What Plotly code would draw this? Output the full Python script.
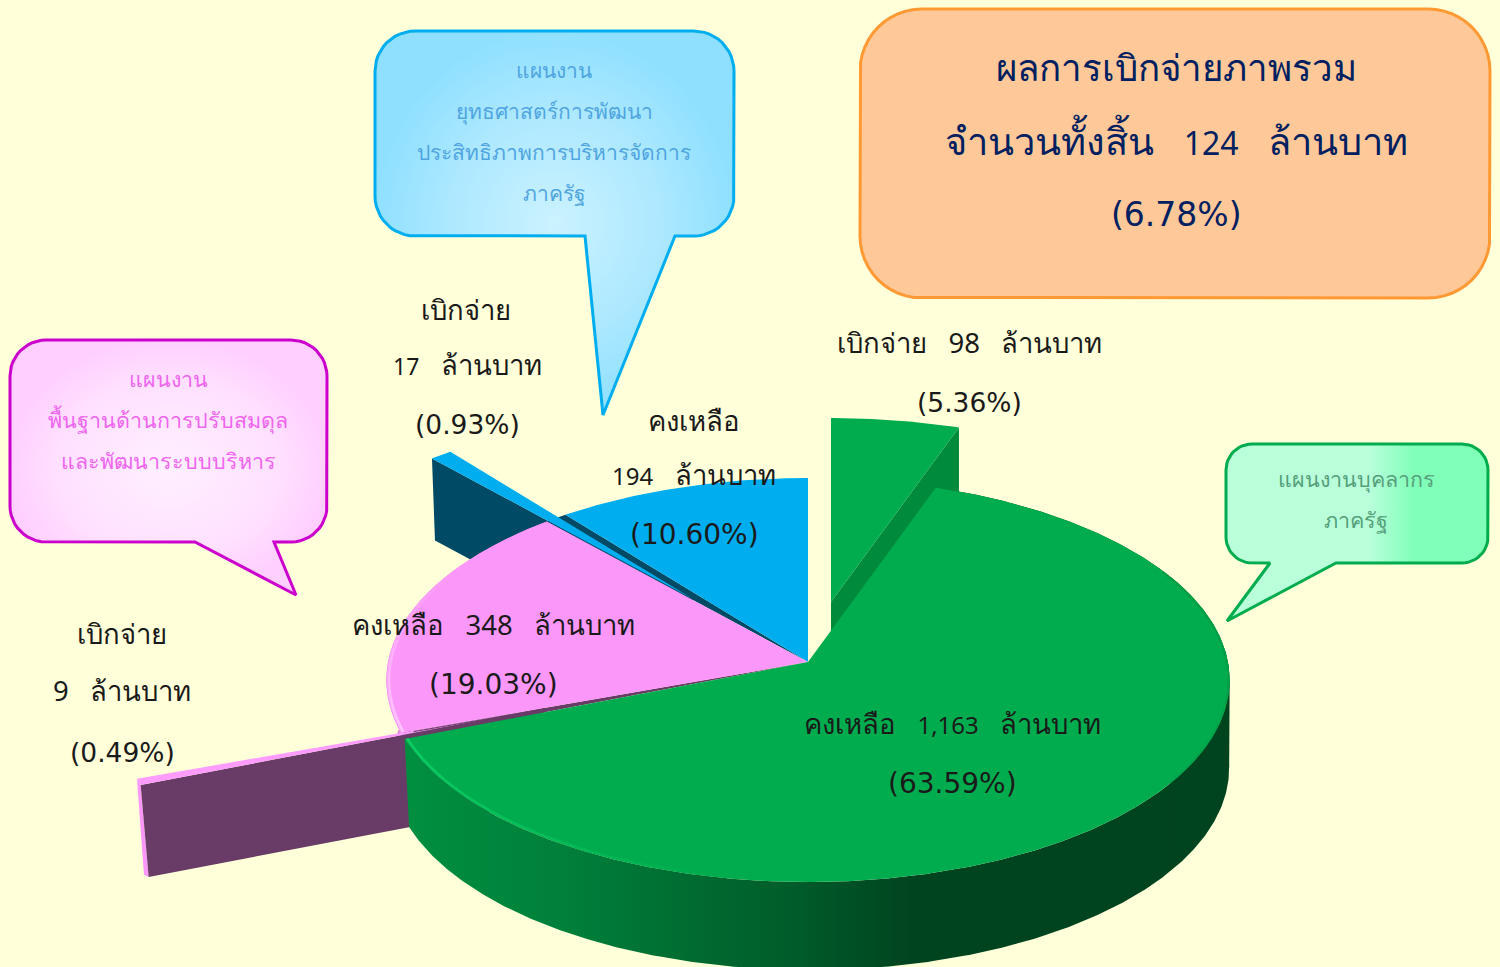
import math
import plotly.graph_objects as go

# ---------- data ----------
categories = ["เบิกจ่าย แผนงานบุคลากรภาครัฐ", "คงเหลือ แผนงานบุคลากรภาครัฐ",
              "เบิกจ่าย แผนงานพื้นฐาน", "คงเหลือ แผนงานพื้นฐาน",
              "เบิกจ่าย แผนงานยุทธศาสตร์", "คงเหลือ แผนงานยุทธศาสตร์"]
values = [98, 1163, 9, 348, 17, 194]
pull_x = [23, 0, -264, 0, -115, 0]
pull_y = [-60, 0, 46, 0, -63, 0]

# ---------- style / projection ----------
BG = "#FFFFD9"
GREEN, BLUE, PINK = "#00AC4E", "#00AEEF", "#FC97FA"
GREEN_CUT, BLUE_CUT, PINK_CUT = "#008A3C", "#004A66", "#683C66"
CX, CY, RX, RY, K, DEPTH = 808, 662, 420, 200.4, 0.0893, 88
FONT = "Noto Sans"
WIDE = "DejaVu Sans"

total = sum(values)
edges = [0.0]
for v in values:
    edges.append(edges[-1] + v / total * 360)


def pt(deg, r=1.0, dx=0.0, dy=0.0, low=False):
    u = r * math.sin(math.radians(deg))
    v = -r * math.cos(math.radians(deg))
    w = 1 - K * v
    sx = 0.994 if low else 1.0
    return (CX + dx + (2 if low else 0) + sx * RX * u / w,
            CY + dy + (DEPTH if low else 0) + RY * v / w)


def arc(a, b, **kw):
    n = max(2, int(abs(b - a) * 2))
    return [pt(a + (b - a) * i / n, **kw) for i in range(n + 1)]


def poly(points, color=None, gradient=None):
    xs = [p[0] for p in points] + [points[0][0]]
    ys = [p[1] for p in points] + [points[0][1]]
    kw = dict(fillgradient=gradient) if gradient else dict(fillcolor=color)
    fig.add_trace(go.Scatter(x=xs, y=ys, mode="lines", fill="toself",
                             line=dict(width=0, color="rgba(0,0,0,0)"),
                             hoverinfo="skip", showlegend=False, **kw))


def wedge(i, color):
    dx, dy = pull_x[i], pull_y[i]
    poly([(CX + dx, CY + dy)] + arc(edges[i], edges[i + 1], dx=dx, dy=dy), color)


def cut(i, deg, color, sx, sy):
    dx, dy = pull_x[i], pull_y[i]
    a = (CX + dx, CY + dy)
    b = pt(deg, dx=dx, dy=dy)
    poly([a, b, (b[0] + sx, b[1] + sy), (a[0] + sx, a[1] + sy)], color)


def mix(c1, c2, t):
    a = [int(c1[j:j + 2], 16) for j in (1, 3, 5)]
    b = [int(c2[j:j + 2], 16) for j in (1, 3, 5)]
    return "rgb(%d,%d,%d)" % tuple(a[j] + (b[j] - a[j]) * t for j in range(3))


def rim(a, b, c0, c1, width=2.5, r=0.994):
    """A thin bevel along the rim, fading from c0 at a to c1 at b."""
    n = 28
    for i in range(n):
        s, e = a + (b - a) * i / n, a + (b - a) * (i + 1) / n
        pts = arc(s, e, r=r)
        fig.add_trace(go.Scatter(x=[p[0] for p in pts], y=[p[1] for p in pts], mode="lines",
                                 line=dict(width=width, color=mix(c0, c1, i / n)),
                                 hoverinfo="skip", showlegend=False))


def rounded(x0, y0, x1, y1, r, tail=None):
    """tail = (x_a, x_b, tip_x, tip_y) on the lower edge."""
    pts = []
    def corner(cx, cy, a0):
        for i in range(13):
            t = math.radians(a0 + 90 * i / 12)
            pts.append((cx + r * math.cos(t), cy + r * math.sin(t)))
    corner(x1 - r, y0 + r, -90)
    corner(x1 - r, y1 - r, 0)
    if tail:
        pts.extend([(tail[1], y1), (tail[2], tail[3]), (tail[0], y1)])
    corner(x0 + r, y1 - r, 90)
    corner(x0 + r, y0 + r, 180)
    pts.append(pts[0])
    return pts


def box(x0, y0, x1, y1, r, line, width, fill=None, gradient=None, tail=None):
    pts = rounded(x0, y0, x1, y1, r, tail)
    kw = dict(fillgradient=gradient) if gradient else dict(fillcolor=fill)
    fig.add_trace(go.Scatter(x=[p[0] for p in pts], y=[p[1] for p in pts], mode="lines",
                             fill="toself", line=dict(width=width, color=line),
                             hoverinfo="skip", showlegend=False, **kw))


fig = go.Figure()

# exploded green slice (behind the main slice)
cut(0, edges[1], GREEN_CUT, 0, 88)
wedge(0, GREEN)

# gap behind the blue slices and the exploded blue sliver
poly([(CX, CY)] + arc(edges[4], edges[5]), BLUE_CUT)
cut(4, edges[4], BLUE_CUT, 3, 82)
wedge(4, BLUE)
wedge(5, BLUE)

# pink slice
poly(arc(edges[2], edges[4]) + arc(edges[4], edges[2], low=True), "#DC8CD8")
poly([(CX, CY)] + arc(edges[2], edges[3]), PINK_CUT)
p_out = pt(edges[3], dx=pull_x[2], dy=pull_y[2])
p_in = pt(edges[2], dx=pull_x[2], dy=pull_y[2])
poly([p_out, p_in, (p_in[0] + 8, p_in[1] + 92), (p_out[0] + 7, p_out[1] + 96)], PINK)
cut(2, edges[2], PINK_CUT, 8, 92)
wedge(3, PINK)
rim(edges[3], edges[3] + 50, "#FFC4FF", "#FC97FA", width=3)
wedge(2, "#FF9CFF")
s = pt(edges[3], r=0.97)
fig.add_trace(go.Scatter(x=[s[0], 544], y=[s[1] + 1, 709], mode="lines",
                         line=dict(width=1, color=PINK_CUT), hoverinfo="skip", showlegend=False))

# main green slice: side wall (with the straight right silhouette), top, bevel
side_grad = dict(type="horizontal", start=405, stop=1230,
                 colorscale=[[0, "#008F40"], [0.2, "#007F3A"], [0.35, "#006B30"],
                             [0.47, "#005C2A"], [0.62, "#00431F"], [1, "#00431F"]])
poly(arc(edges[1], edges[2]) + arc(edges[2], edges[1], low=True), gradient=side_grad)
poly([pt(95), pt(95, low=True), pt(125, low=True), pt(125)], "#00431F")
wedge(1, GREEN)
rim(edges[2], edges[2] - 58, "#0CD064", "#00AC4E")
rim(62, 125, "#009A44", "#00A84C", width=2, r=0.997)

# callouts
box(860, 9, 1490, 298, 62, "#FF9933", 3, fill="#FFC898")
box(375, 31, 734, 236, 40, "#00AEEF", 3,
    gradient=dict(type="radial", colorscale=[[0, "#CBF2FF"], [0.6, "#ACE8FF"], [1, "#8FE0FF"]]),
    tail=(585, 675, 603, 415))
box(10, 340, 327, 542, 36, "#CC00CC", 3,
    gradient=dict(type="radial", colorscale=[[0, "#FFF0FF"], [0.7, "#FFE0FF"], [1, "#FFD0FF"]]),
    tail=(195, 274, 296, 595))
box(1226, 444, 1488, 563, 26, "#00AC4E", 3,
    gradient=dict(type="horizontal", start=1226, stop=1488,
                  colorscale=[[0, "#B8FFDA"], [0.55, "#B8FFDA"], [0.72, "#80FFB8"], [1, "#80FFB8"]]),
    tail=(1270, 1336, 1227, 621))

TH, BK = 27.5, "#1A1A1A"
SP = "&nbsp;&nbsp;&nbsp;"


def num(t, size):
    return '<span style="font-size:%gpx">%s</span>' % (size, t)


texts = [
    ("ผลการเบิกจ่ายภาพรวม", 1176, 67, 36.7, "#002060", FONT),
    ("จำนวนทั้งสิ้น" + SP + num("124", 32) + SP + "ล้านบาท", 1176, 140, 38, "#002060", FONT),
    ("(6.78%)", 1176, 214, 33, "#002060", WIDE),
    ("แผนงาน", 554, 70, 21, "#4FA5E0", FONT),
    ("ยุทธศาสตร์การพัฒนา", 554, 111, 21, "#4FA5E0", FONT),
    ("ประสิทธิภาพการบริหารจัดการ", 554, 152, 21, "#4FA5E0", FONT),
    ("ภาครัฐ", 554, 193, 21, "#4FA5E0", FONT),
    ("แผนงาน", 168, 378, 21.5, "#EE66EE", FONT),
    ("พื้นฐานด้านการปรับสมดุล", 168, 419, 21.5, "#EE66EE", FONT),
    ("และพัฒนาระบบบริหาร", 168, 460, 21.5, "#EE66EE", FONT),
    ("แผนงานบุคลากร", 1356, 478, 21.5, "#55A07A", FONT),
    ("ภาครัฐ", 1356, 519, 21.5, "#55A07A", FONT),
    ("เบิกจ่าย" + SP + "98" + SP + "ล้านบาท", 969, 342, TH, BK, FONT),
    ("(5.36%)", 969, 402, 26.5, BK, WIDE),
    ("เบิกจ่าย", 466, 309, TH, BK, FONT),
    (num("17", 23) + SP + "ล้านบาท", 467, 364, TH, BK, FONT),
    ("(0.93%)", 467, 424, 26.5, BK, WIDE),
    ("เบิกจ่าย", 122, 633, TH, BK, FONT),
    ("9" + SP + "ล้านบาท", 122, 690, TH, BK, FONT),
    ("(0.49%)", 122, 752, 26.5, BK, WIDE),
    ("คงเหลือ", 694, 420, TH, BK, FONT),
    (num("194", 24) + SP + "ล้านบาท", 694, 474, TH, BK, FONT),
    ("(10.60%)", 694, 534, 28, BK, WIDE),
    ("คงเหลือ" + SP + "348" + SP + "ล้านบาท", 493, 624, TH, BK, FONT),
    ("(19.03%)", 493, 684, 28, BK, WIDE),
    ("คงเหลือ" + SP + num("1,163", 24) + SP + "ล้านบาท", 952, 723, TH, BK, FONT),
    ("(63.59%)", 952, 783, 28, BK, WIDE),
]
annotations = [dict(x=x, y=y, text=t, showarrow=False,
                    xanchor="center", yanchor="middle",
                    font=dict(size=s, color=c, family=f))
               for t, x, y, s, c, f in texts]

fig.update_layout(
    width=1500, height=967, margin=dict(l=0, r=0, t=0, b=0),
    paper_bgcolor=BG, plot_bgcolor=BG, showlegend=False,
    xaxis=dict(range=[0, 1500], visible=False, fixedrange=True),
    yaxis=dict(range=[967, 0], visible=False, fixedrange=True),
    annotations=annotations,
)
fig.write_html("out.html", config=dict(displayModeBar=False),
               post_script="document.body.style.margin='0';document.documentElement.style.overflow='hidden';document.body.style.background='%s';" % BG)
